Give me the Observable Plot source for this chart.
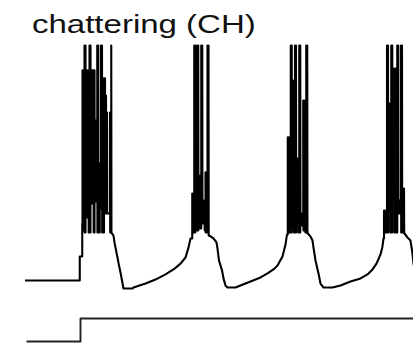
<!DOCTYPE html>
<html><head><meta charset="utf-8">
<script src="https://cdn.jsdelivr.net/npm/d3@7"></script>
<script src="https://cdn.jsdelivr.net/npm/@observablehq/plot@0.6"></script>
<style>
html,body{margin:0;padding:0;background:#fff;}
#wrap{width:413px;height:346px;position:relative;overflow:hidden;background:#fff;}
#title{position:absolute;left:32px;top:11.8px;font-family:"Liberation Sans",Arial,Helvetica,sans-serif;font-size:25px;line-height:25px;color:#111;transform:scaleX(1.32);transform-origin:0 0;white-space:nowrap;z-index:2;}
#v{position:absolute;left:0;top:40px;}
#i{position:absolute;left:0;top:300px;}
</style></head><body>
<div id="wrap"><div id="v"></div><div id="i"></div><div id="title">chattering (CH)</div></div>
<script>
// time in ms, membrane potential in mV, injected current in arbitrary units
const title = "chattering (CH)";

// resting potential before the step, and the first response to the step
const preT = [0, 21.7, 21.7, 22.7, 22.7];
const preV = [-70, -70, -59.8, -59.8, -45.7];

// bursts: spike times, peak value reached, value the trace falls back to
const b1T = [22.8,23.2,23.6,24.0,24.4,24.8,25.2,25.6,26.0,26.4,26.8,27.2,27.6,28.2,28.7,29.1,29.7,30.2,30.6,31.0,31.4,31.8,32.2,32.6,33.8,34.3];
const b1Top = [19.4,19.4,30,30,19.4,19.4,19.4,30,30,19.4,19.4,19.4,19.4,-1.9,30,30,-20.2,30,30,16.0,16.0,16.0,8.7,1.5,1.5,30];
const b1Low = [-48.7,-48.7,-49.6,-43.2,-43.2,-43.2,-49.6,-49.6,-37.2,-37.2,-37.2,-49.6,-36.4,-36.4,-49.6,-49.6,-39.4,-39.4,-49.6,-49.6,-41.5,-41.5,-41.5,-41.5,-49.6,-49.6];

const rec1T = [35.2,35.6,36.0,36.8,37.4,38.0,38.6,39.2,42.8,43.2,48.0,52.0,56.0,59.2,62.0,64.0,65.2,66.0];
const rec1V = [-50.9,-53.8,-56.0,-60.2,-63.6,-66.6,-70.0,-73.4,-73.4,-73.0,-71.3,-69.6,-67.4,-65.3,-62.8,-60.2,-56.0,-52.1];

const b2T = [66.7,67.1,67.5,67.9,68.3,68.7,69.1,69.5,69.9,70.3,70.7,71.2,71.6,72.0,72.4,72.8,73.2];
const b2Top = [-33.0,-33.0,30,30,-25.3,30,30,-25.3,-25.3,30,30,-36.0,-36.0,-24.0,-24.0,30,30];
const b2Low = [-49.6,-49.6,-49.6,-48.7,-48.7,-48.7,-47.9,-47.9,-47.9,-45.7,-45.7,-45.7,-48.7,-49.6,-49.6,-49.6,-50.9];

const rec2T = [73.6,75.2,76.4,76.8,77.4,78.6,79.2,80.0,80.8,84.0,86.0,90.0,94.0,96.8,99.2,100.8,102.8,104.0,104.6];
const rec2V = [-50.9,-52.1,-53.8,-56.4,-61.5,-65.7,-69.1,-72.1,-73.0,-73.0,-72.1,-70.4,-68.7,-67.0,-65.3,-63.6,-59.8,-54.7,-50.4];

const b3T = [104.9,105.3,105.7,106.1,106.5,106.9,107.3,107.8,108.2,108.6,109.0,109.5,109.9,110.4,111.1,111.5,111.9,112.3,112.7];
const b3Top = [-9.1,-9.1,-9.1,30,30,15.1,15.1,30,30,-18.1,-18.1,30,30,-41.5,6.6,6.6,6.6,30,30];
const b3Low = [-47.9,-49.6,-49.6,-49.6,-47.4,-47.4,-49.6,-49.6,-44.5,-44.5,-49.6,-49.6,-46.6,-46.6,-48.7,-48.7,-49.6,-49.6,-50.0];

const rec3T = [113.0,114.0,114.8,115.2,116.0,117.2,118.0,119.2,122.8,126.0,130.0,134.0,136.8,138.8,140.4,142.0,142.8,143.2];
const rec3V = [-50.0,-51.3,-53.0,-56.0,-61.5,-67.0,-71.3,-73.0,-73.0,-72.1,-70.4,-69.1,-67.4,-65.3,-62.8,-58.9,-55.5,-52.1];

const b4T = [143.4,143.8,144.2,144.6,145.0,145.4,145.8,146.3,146.7,147.1,147.5,147.9,148.3,148.7,149.1,149.6,150.2,150.6,151.0,151.4];
const b4Top = [-40.2,-40.2,-40.2,30,30,5.3,5.3,30,30,-6.2,20.2,20.2,20.2,30,30,-36.0,30,30,-30.9,-30.9];
const b4Low = [-47.9,-49.6,-49.6,-49.6,-40.2,-40.2,-49.6,-49.6,-35.1,-35.1,-49.6,-49.6,-49.6,-41.5,-41.5,-41.5,-49.6,-49.6,-49.6,-50.0];

const tailT = [151.6,152.8,154.0,154.8,155.2,156.0];
const tailV = [-50.0,-51.7,-53.0,-58.5,-62.8,-66.6];

// injected current step
const currT = [0.7, 22.0, 22.0, 156];
const currI = [0, 0, 10, 10];

// build the voltage trace table from the arrays
const trace = [];
function addSeg(T, V) { T.forEach((t, i) => trace.push({t, v: V[i]})); }
function addBurst(T, Top, Low) {
  let prev = trace[trace.length - 1].v;
  T.forEach((t, i) => {
    trace.push({t, v: prev});
    trace.push({t, v: Top[i]});
    trace.push({t: t + 0.08, v: Low[i]});
    prev = Low[i];
  });
}
addSeg(preT, preV);
addBurst(b1T, b1Top, b1Low);
addSeg(rec1T, rec1V);
addBurst(b2T, b2Top, b2Low);
addSeg(rec2T, rec2V);
addBurst(b3T, b3Top, b3Low);
addSeg(rec3T, rec3V);
addBurst(b4T, b4Top, b4Low);
addSeg(tailT, tailV);

const current = currT.map((t, i) => ({t, i: currI[i]}));

const vPlot = Plot.plot({
  width: 413, height: 260,
  marginLeft: 25, marginRight: 0, marginTop: 0, marginBottom: 0,
  style: {background: "none"},
  x: {domain: [0, 155.2], axis: null},
  y: {domain: [-78.51, 32.13], axis: null},
  marks: [
    Plot.line(trace, {x: "t", y: "v", stroke: "#000", strokeWidth: 2.1, clip: true})
  ]
});
document.getElementById("v").appendChild(vPlot);

const iPlot = Plot.plot({
  width: 413, height: 46,
  marginLeft: 25, marginRight: 0, marginTop: 0, marginBottom: 0,
  style: {background: "none"},
  x: {domain: [0, 155.2], axis: null},
  y: {domain: [-2.174, 17.83], axis: null},
  marks: [
    Plot.line(current, {x: "t", y: "i", stroke: "#222", strokeWidth: 1.9, clip: true})
  ]
});
document.getElementById("i").appendChild(iPlot);
document.getElementById("title").textContent = title;
</script>
</body></html>
